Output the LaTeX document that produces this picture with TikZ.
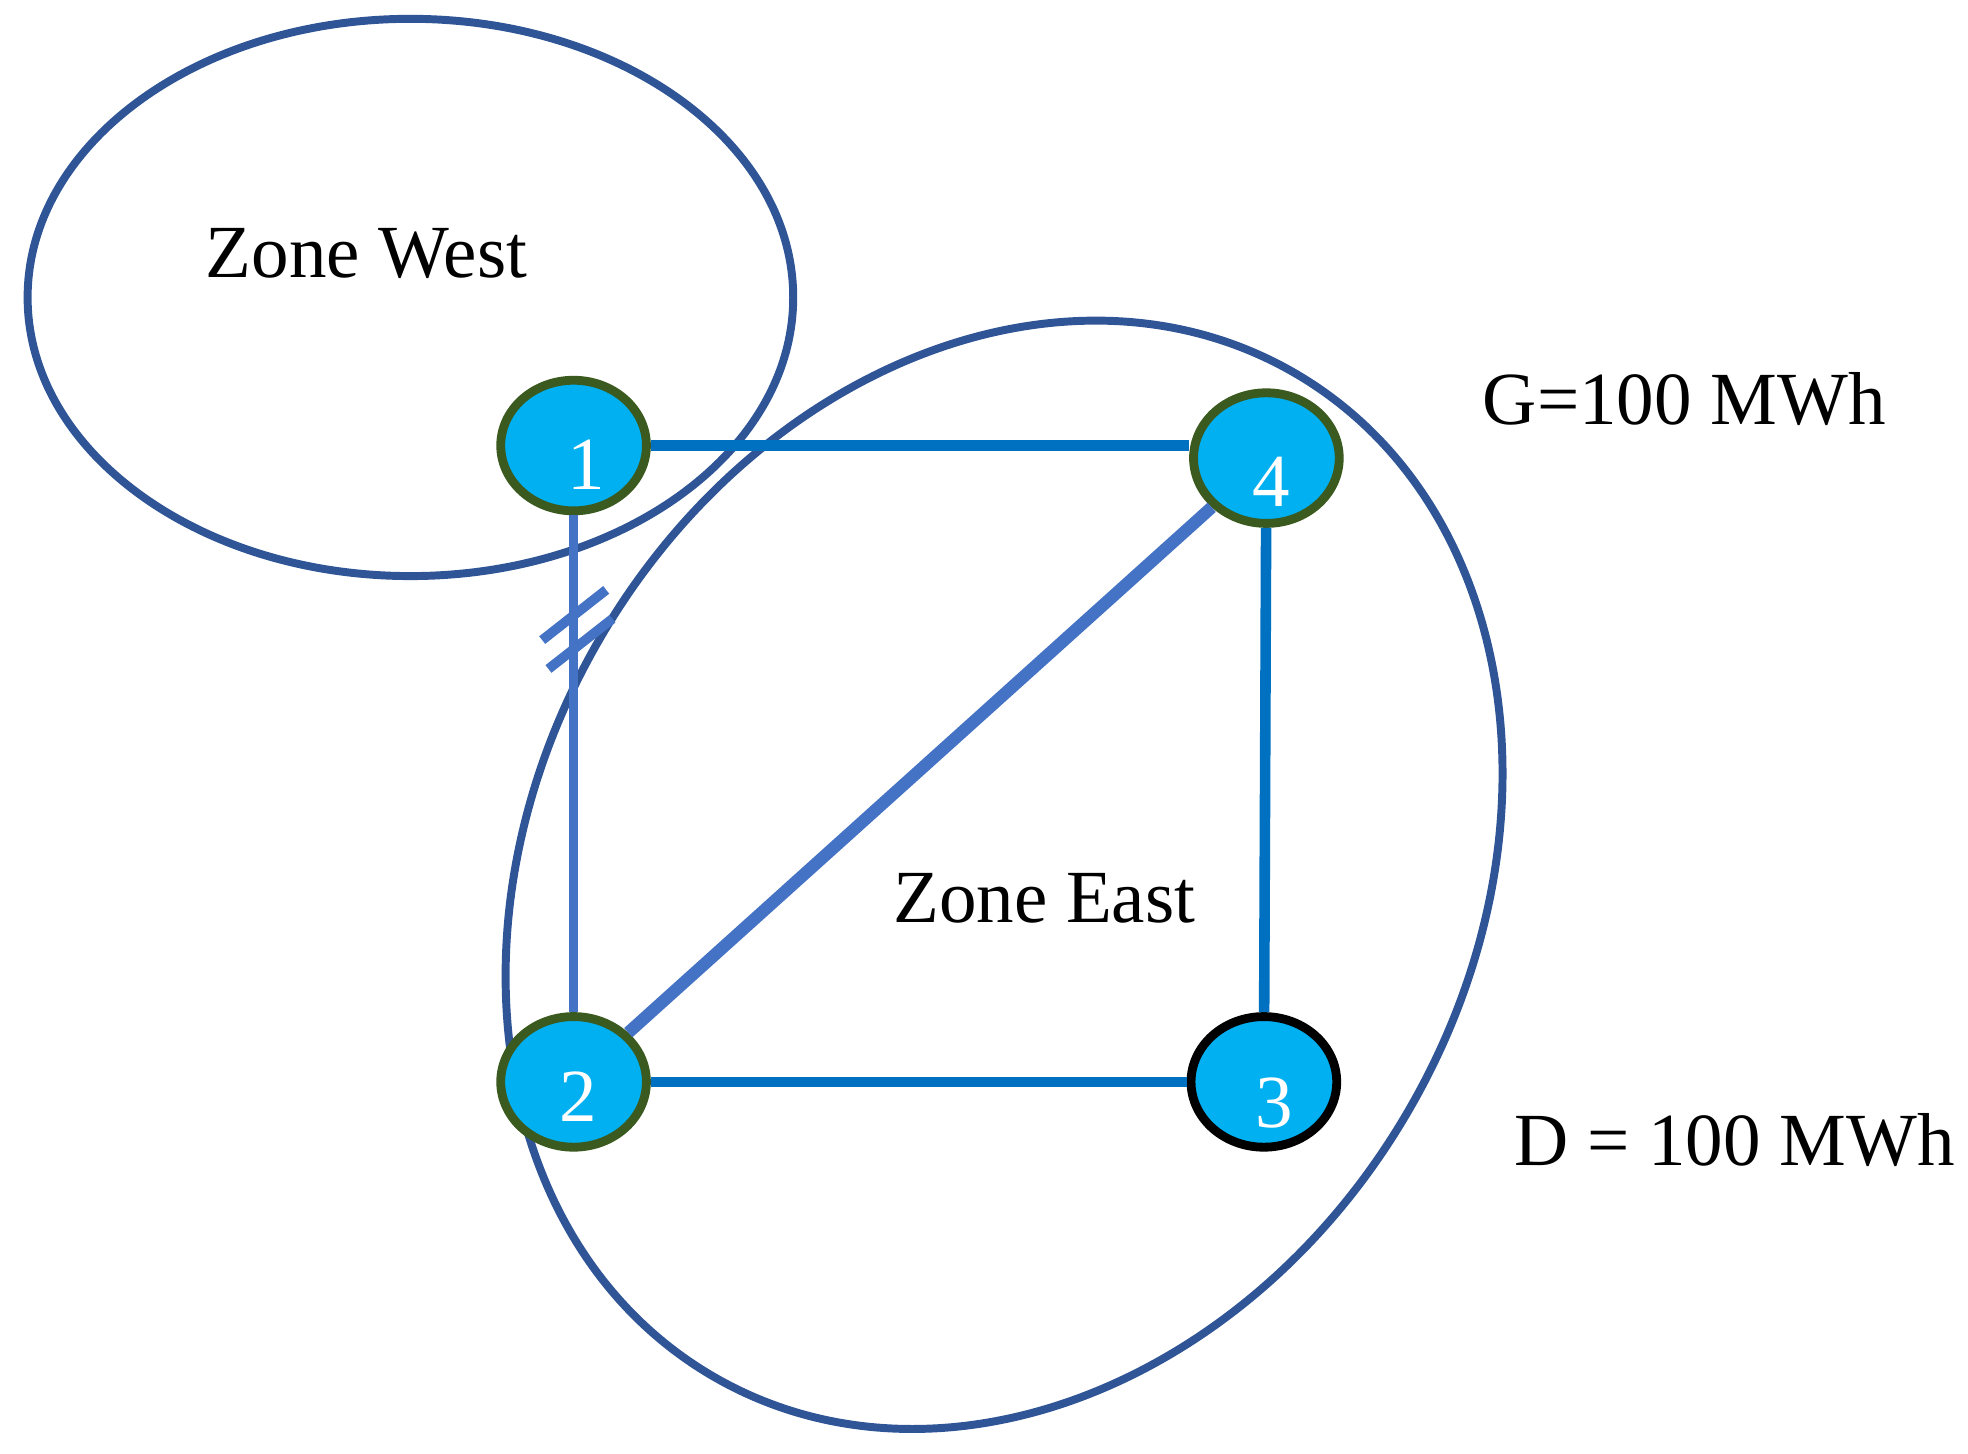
\documentclass[tikz,border=0pt]{standalone}
\usepackage{fontspec}
\setmainfont{Liberation Serif}
\usetikzlibrary{shapes.geometric}
\definecolor{zone}{HTML}{2F5597}
\definecolor{ln}{HTML}{0070C0}
\definecolor{ln2}{HTML}{4472C4}
\definecolor{bus}{HTML}{00B0F0}
\definecolor{bd}{HTML}{3A5A1F}
\begin{document}
\begin{tikzpicture}[x=0.01cm,y=-0.01cm,
  zonee/.style={draw=zone,line width=1.8pt},
  bus/.style={ellipse,fill=bus,draw=bd,line width=2pt,minimum width=1.16cm,minimum height=1.04cm,inner sep=0pt},
  lbl/.style={text=white,font=\fontsize{17}{17}\selectfont},
  txt/.style={font=\fontsize{17}{17}\selectfont,inner sep=0pt},
  e1/.style={draw=ln,line width=2.4pt},
  e2/.style={draw=ln2,line width=2.2pt}]
\useasboundingbox (0,0) rectangle (1568,1158);
\draw[zonee] (327,237) ellipse [x radius=305, y radius=222];
\draw[zonee,rotate around={-30:(800,697)}] (800,697) ellipse [x radius=373, y radius=462];
\node[bus] (n1) at (457,355) {};
\node[bus] (n2) at (457,862) {};
\node[bus,draw=black] (n3) at (1007,862) {};
\node[bus] (n4) at (1009,365) {};
\coordinate (p4) at (n4.west |- n1);
\draw[e1] (n1) -- (p4);
\draw[e1] (n4) -- (n3);
\draw[e1] (n2) -- (n3);
\draw[e2] (n1) -- (n2);
\draw[draw=ln2,line width=2.8pt] (n2) -- (n4);
\draw[e2] (432,510) -- (483,470);
\draw[e2] (437,533) -- (488,493);
\node[lbl] at (467,370) {1};
\node[lbl] at (461,874) {2};
\node[lbl] at (1015,879) {3};
\node[lbl] at (1013,384) {4};
\node[txt] (zw) at (292,202) {Zone West};
\node[txt] (ze) at (832,716) {Zone East};
\node[txt] (g) at (1342,318) {G=100 MWh};
\node[txt] (d) at (1382,908) {D = 100 MWh};
\end{tikzpicture}
\end{document}
